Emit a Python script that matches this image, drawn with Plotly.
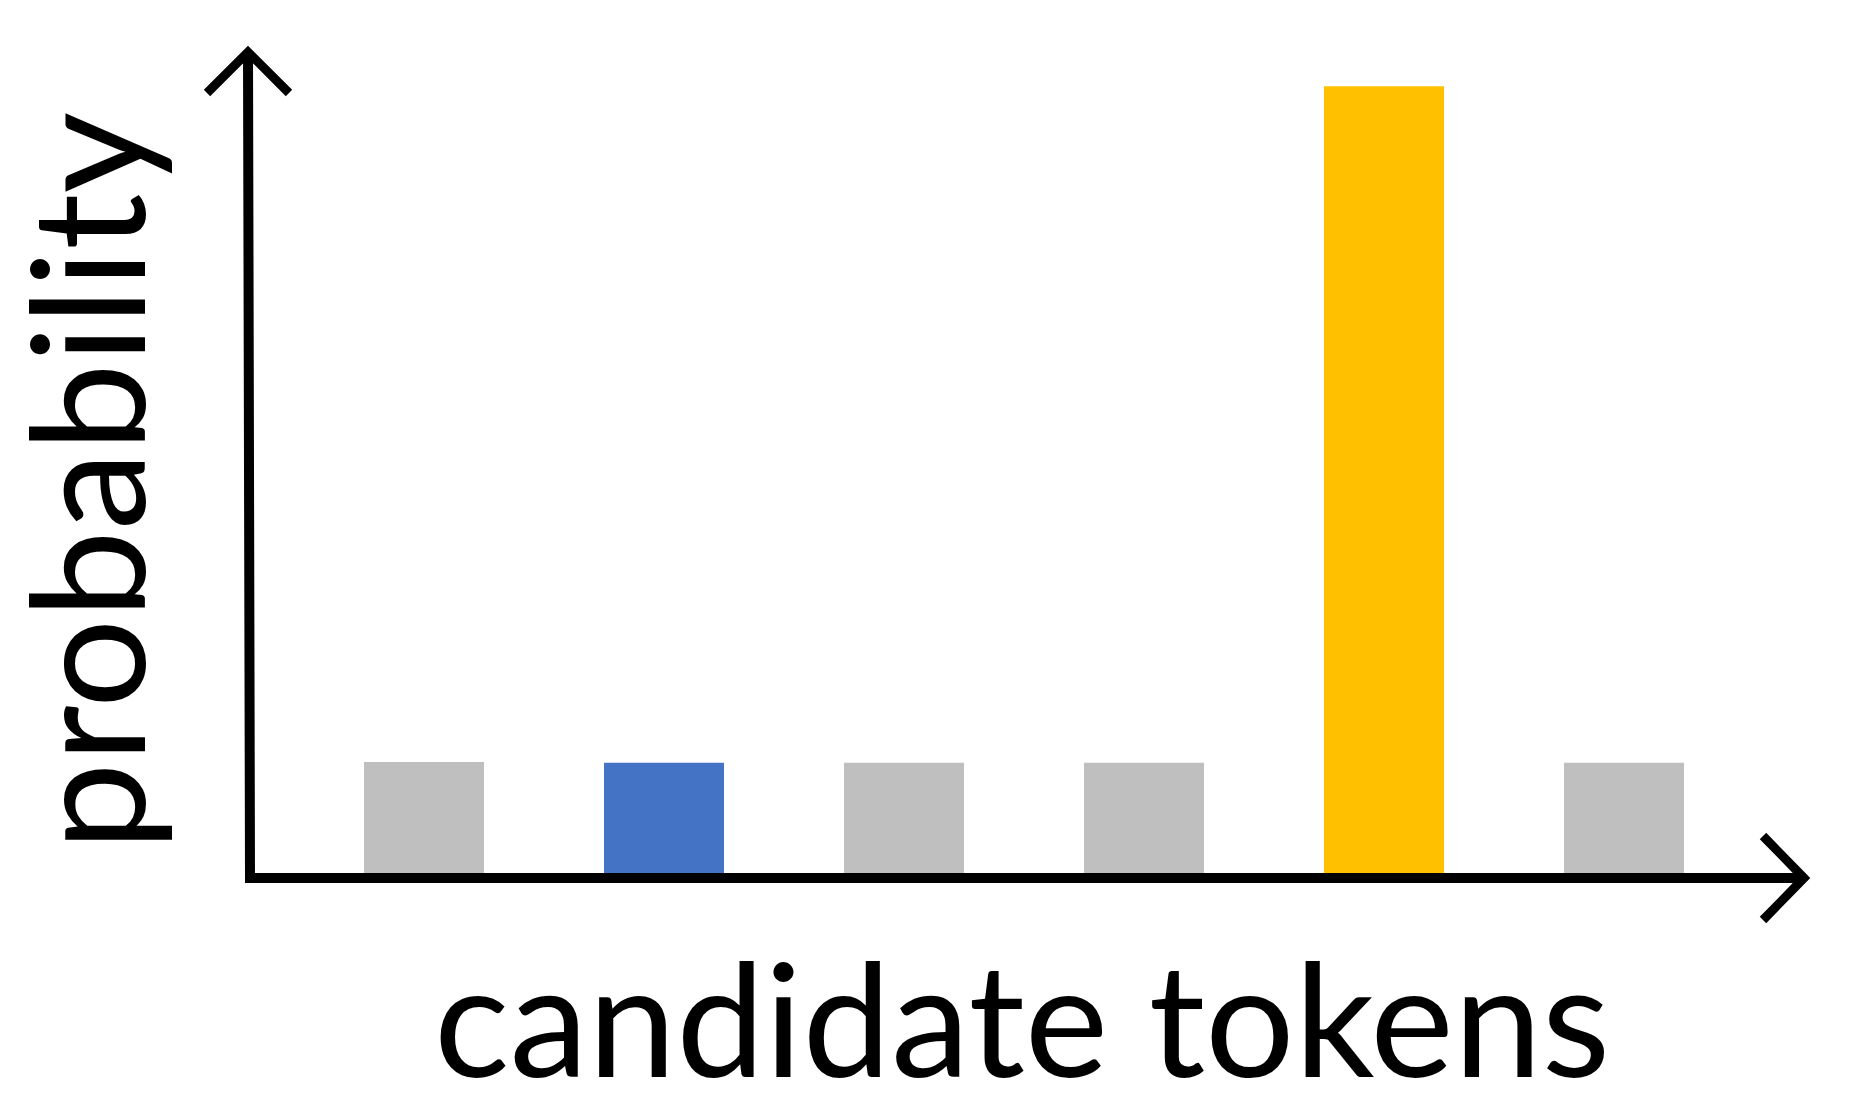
import plotly.graph_objects as go

# candidate tokens (unlabelled in the picture) and their probabilities
tokens = ["t1", "t2", "t3", "t4", "t5", "t6"]
probs = [0.141, 0.14, 0.14, 0.14, 1.0, 0.14]
colors = ["#BFBFBF", "#4472C4", "#BFBFBF", "#BFBFBF", "#FFC000", "#BFBFBF"]

FONT = "Lato"

fig = go.Figure(go.Bar(
    x=tokens,
    y=probs,
    marker=dict(color=colors, line=dict(width=0)),
    width=0.5,
    showlegend=False,
))

# axis arrows, drawn in pixels from the bottom-left corner of the plot area
fig.add_shape(type="path", xref="x domain", yref="y domain",
              xsizemode="pixel", ysizemode="pixel", xanchor=0, yanchor=0,
              path="M -2 822 L 0 -5 L 1555 -5", line=dict(width=10, color="black"))
fig.add_shape(type="path", xref="x domain", yref="y domain",
              xsizemode="pixel", ysizemode="pixel", xanchor=0, yanchor=0,
              path="M -43 780 L -2 821 L 39 780", line=dict(width=9, color="black"))
fig.add_shape(type="path", xref="x domain", yref="y domain",
              xsizemode="pixel", ysizemode="pixel", xanchor=0, yanchor=0,
              path="M 1513 37 L 1554 -5 L 1513 -47", line=dict(width=9, color="black"))

fig.add_annotation(text="probability", xref="paper", yref="paper",
                   x=-0.106, y=0.474, textangle=-90, showarrow=False,
                   xanchor="center", yanchor="middle",
                   font=dict(family=FONT, size=158, color="black"))
fig.add_annotation(text="candidate tokens", xref="paper", yref="paper",
                   x=0.495, y=-0.173, showarrow=False,
                   xanchor="center", yanchor="middle",
                   font=dict(family=FONT, size=158, color="black"))

fig.update_xaxes(range=[-0.725, 5.775], showticklabels=False, showgrid=False,
                 zeroline=False, showline=False, ticks="")
fig.update_yaxes(range=[0, 1.05], showticklabels=False, showgrid=False,
                 zeroline=False, showline=False, ticks="")

# the page body adds 8px, so the margins are shifted by that much
fig.update_layout(
    width=1852, height=1101,
    margin=dict(l=242, r=50, t=39, b=236),
    plot_bgcolor="white", paper_bgcolor="white",
)

fig.write_html("out.html")
